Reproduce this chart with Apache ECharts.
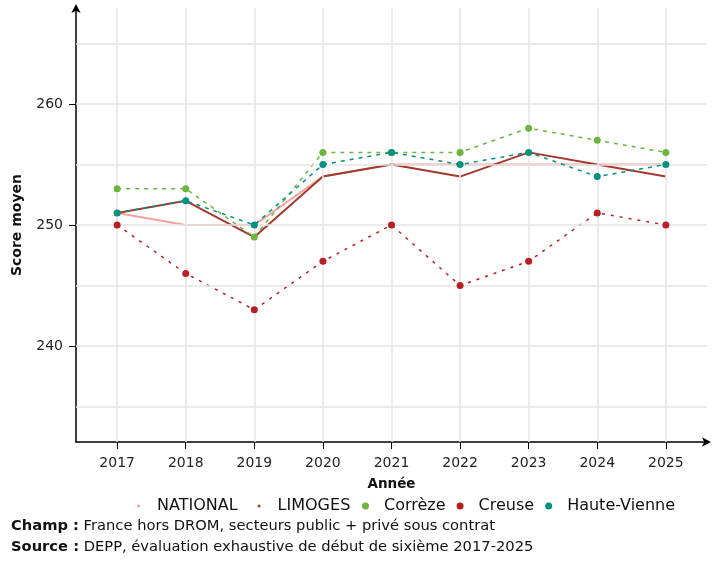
<!DOCTYPE html>
<html><head><meta charset="utf-8">
<script src="https://cdn.jsdelivr.net/npm/echarts@6/dist/echarts.min.js"></script>
<style>html,body{margin:0;padding:0;background:#fff}#c{width:720px;height:561px}</style>
</head><body><div id="c"></div>
<script>
const years = [2017, 2018, 2019, 2020, 2021, 2022, 2023, 2024, 2025];
const national = [251, 250, 250, 254, 255, 255, 255, 255, 255];
const limoges = [251, 252, 249, 254, 255, 254, 256, 255, 254];
const correze = [253, 253, 249, 256, 256, 256, 258, 257, 256];
const creuse = [250, 246, 243, 247, 250, 245, 247, 251, 250];
const hauteVienne = [251, 252, 250, 255, 256, 255, 256, 254, 255];
const yTicks = [240, 250, 260];
const yGrid = [235, 240, 245, 250, 255, 260, 265];

const FONT = 'DejaVu Sans';
const pair = arr => years.map((y, i) => [y, arr[i]]);
const chart = echarts.init(document.getElementById('c'));
const lineOf = (name, data, color, dash, width, z) => ({
  name, type: 'line', data: pair(data), showSymbol: false, symbol: 'none', z,
  color, itemStyle: { color }, lineStyle: { width, type: dash, color }
});
const pointsOf = (name, data, color, z) => ({
  name, type: 'scatter', data: pair(data), symbol: 'circle', symbolSize: 7, z,
  color, itemStyle: { color, borderWidth: 0, opacity: 1 }
});
const legendText = { fontSize: 16, color: '#111', fontFamily: FONT };
const capRich = { b: { fontWeight: 'bold', fontSize: 14.7, fontFamily: FONT, fill: '#111' } };
chart.setOption({
  animation: false,
  textStyle: { fontFamily: FONT },
  grid: { left: 76, top: 8, width: 631, height: 434 },
  xAxis: {
    type: 'value', min: 2016.4, max: 2025.6,
    name: 'Année', nameLocation: 'middle', nameGap: 35,
    nameTextStyle: { fontWeight: 'bold', fontSize: 13.5, color: '#111', fontFamily: FONT },
    axisLine: { show: true, lineStyle: { color: '#000', width: 1.5 }, symbol: ['none', 'arrow'], symbolSize: [7, 9], symbolOffset: [0, 4] },
    axisTick: { show: true, length: 7, lineStyle: { color: '#000' }, customValues: years },
    axisLabel: { customValues: years, formatter: v => String(v), fontSize: 14, color: '#222', margin: 14, fontFamily: FONT },
    splitLine: { show: false }
  },
  yAxis: {
    type: 'value', min: 232.07, max: 267.93,
    name: 'Score moyen', nameLocation: 'middle', nameGap: 52, nameRotate: 90,
    nameTextStyle: { fontWeight: 'bold', fontSize: 14, color: '#111', fontFamily: FONT },
    axisLine: { show: true, lineStyle: { color: '#000', width: 1.5 }, symbol: ['none', 'arrow'], symbolSize: [7, 9], symbolOffset: [0, 4] },
    axisTick: { show: true, length: 7, lineStyle: { color: '#000' }, customValues: yTicks },
    axisLabel: { customValues: yTicks, fontSize: 14, color: '#222', margin: 13, fontFamily: FONT },
    splitLine: { show: false }
  },
  legend: [
    {
      data: ['NATIONAL', 'LIMOGES'], icon: 'circle', itemWidth: 27, itemHeight: 3,
      left: 132, top: 493, itemGap: 20, textStyle: legendText
    },
    {
      data: ['Corrèze', 'Creuse', 'Haute-Vienne'], icon: 'circle', itemWidth: 27, itemHeight: 7,
      left: 357, top: 493, itemGap: 11, textStyle: legendText
    }
  ],
  graphic: [
    { type: 'text', left: 11, top: 519, style: { text: '{b|Champ :} France hors DROM, secteurs public + privé sous contrat', fontSize: 14.7, fill: '#111', fontFamily: FONT, rich: capRich } },
    { type: 'text', left: 11, top: 540, style: { text: '{b|Source :} DEPP, évaluation exhaustive de début de sixième 2017-2025', fontSize: 14.7, fill: '#111', fontFamily: FONT, rich: capRich } }
  ],
  series: [
    {
      name: '_grid', type: 'line', data: [], z: 0, silent: true,
      markLine: {
        silent: true, symbol: 'none', label: { show: false }, animation: false,
        lineStyle: { color: '#e4e4e4', type: 'solid', width: 1.5 },
        data: years.map(y => ({ xAxis: y })).concat(yGrid.map(v => ({ yAxis: v })))
      }
    },
    lineOf('NATIONAL', national, '#f4a29c', 'solid', 2, 2),
    lineOf('LIMOGES', limoges, '#a3392c', 'solid', 2, 3),
    lineOf('Corrèze', correze, '#6eb43f', [4, 5], 1.5, 4),
    lineOf('Creuse', creuse, '#b71f24', [3, 6], 1.5, 4),
    lineOf('Haute-Vienne', hauteVienne, '#00917f', [4, 5], 1.5, 5),
    pointsOf('Corrèze', correze, '#6eb43f', 6),
    pointsOf('Creuse', creuse, '#b71f24', 6),
    pointsOf('Haute-Vienne', hauteVienne, '#00917f', 7)
  ]
});
</script></body></html>
